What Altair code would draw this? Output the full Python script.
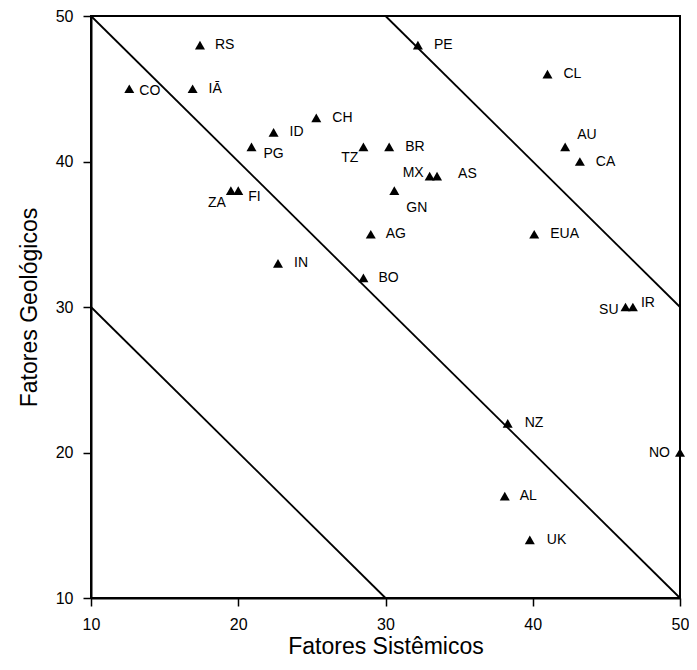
import altair as alt
import pandas as pd

# Country codes and their coordinates (Fatores Sistêmicos, Fatores Geológicos)
labels = ["RS", "CO", "IĀ", "CH", "ID", "PG", "ZA", "FI", "TZ", "BR", "MX", "AS", "GN",
          "AG", "IN", "BO", "PE", "CL", "AU", "CA", "EUA", "SU", "IR", "NZ", "NO", "AL", "UK"]
sistemicos = [17.4, 12.6, 16.9, 25.3, 22.4, 20.9, 19.5, 20.0, 28.5, 30.25, 33.0, 33.5, 30.6,
              29.0, 22.7, 28.5, 32.2, 41.0, 42.2, 43.2, 40.1, 46.3, 46.8, 38.3, 50.0, 38.1, 39.8]
geologicos = [48, 45, 45, 43, 42, 41, 38, 38, 41, 41, 39, 39, 38,
              35, 33, 32, 48, 46, 41, 40, 35, 30, 30, 22, 20, 17, 14]

# Diagonal reference lines (start and end points in data units)
line_id = ["a", "a", "b", "b", "c", "c"]
line_x = [10, 30, 10, 50, 30, 50]
line_y = [30, 10, 50, 10, 50, 30]

# Label placement relative to marker: (align, dx, dy)
label_place = {
    "RS": ("left", 15, 0), "CO": ("left", 10, 2), "IĀ": ("left", 16, 0),
    "CH": ("left", 16, 0), "ID": ("left", 16, 0), "PG": ("left", 12, 7),
    "ZA": ("right", -5, 12), "FI": ("left", 10, 6), "TZ": ("right", -5, 11),
    "BR": ("left", 16, 0), "MX": ("right", -6, -3), "AS": ("left", 21, -2),
    "GN": ("left", 12, 17), "AG": ("left", 15, 0), "IN": ("left", 16, 0),
    "BO": ("left", 15, 0), "PE": ("left", 16, 0), "CL": ("left", 16, 0),
    "AU": ("left", 12, -12), "CA": ("left", 16, 0), "EUA": ("left", 16, 0),
    "SU": ("right", -7, 3), "IR": ("left", 8, -4), "NZ": ("left", 17, 0),
    "NO": ("right", -10, 0), "AL": ("left", 15, 0), "UK": ("left", 17, 0),
}

pts = pd.DataFrame({"label": labels, "x": sistemicos, "y": geologicos})
lines = pd.DataFrame({"id": line_id, "x": line_x, "y": line_y})

FONT = "Liberation Sans"
xscale = alt.Scale(domain=[10, 50], nice=False)
yscale = alt.Scale(domain=[10, 50], nice=False)

xenc = alt.X("x:Q", scale=xscale,
             axis=alt.Axis(title="Fatores Sistêmicos", values=[10, 20, 30, 40, 50],
                           labelFlush=False))
yenc = alt.Y("y:Q", scale=yscale,
             axis=alt.Axis(title="Fatores Geológicos", values=[10, 20, 30, 40, 50],
                           labelFlush=False))

line_layer = alt.Chart(lines).mark_line(color="black", strokeWidth=1.8).encode(
    x=xenc, y=yenc, detail="id:N"
)

point_layer = alt.Chart(pts).mark_point(
    shape="triangle-up", filled=True, color="black", size=100, opacity=1
).encode(x=xenc, y=yenc)

layers = [line_layer, point_layer]
groups = {}
for lab, place in label_place.items():
    groups.setdefault(place, []).append(lab)
for (align, dx, dy), labs in groups.items():
    sub = pts[pts["label"].isin(labs)]
    layers.append(
        alt.Chart(sub).mark_text(
            align=align, baseline="middle", dx=dx, dy=dy,
            font=FONT, fontSize=14, color="black"
        ).encode(x=xenc, y=yenc, text="label:N")
    )

chart = alt.layer(*layers).properties(
    width=589, height=582,
    autosize=alt.AutoSizeParams(type="none"),
    padding={"left": 83, "top": 8, "right": 9, "bottom": 63},
).configure_view(
    stroke="black", strokeWidth=2
).configure_axis(
    grid=False, domainColor="black", domainWidth=2,
    tickColor="black", tickSize=8, tickWidth=1.5,
    labelFont=FONT, labelFontSize=16, labelColor="black", labelPadding=10,
    titleFont=FONT, titleFontSize=23, titleFontWeight="normal", titleColor="black",
).configure_axisY(titlePadding=14).configure_axisX(titlePadding=3)

chart.save("out.html", embed_options={"renderer": "svg", "actions": False})
